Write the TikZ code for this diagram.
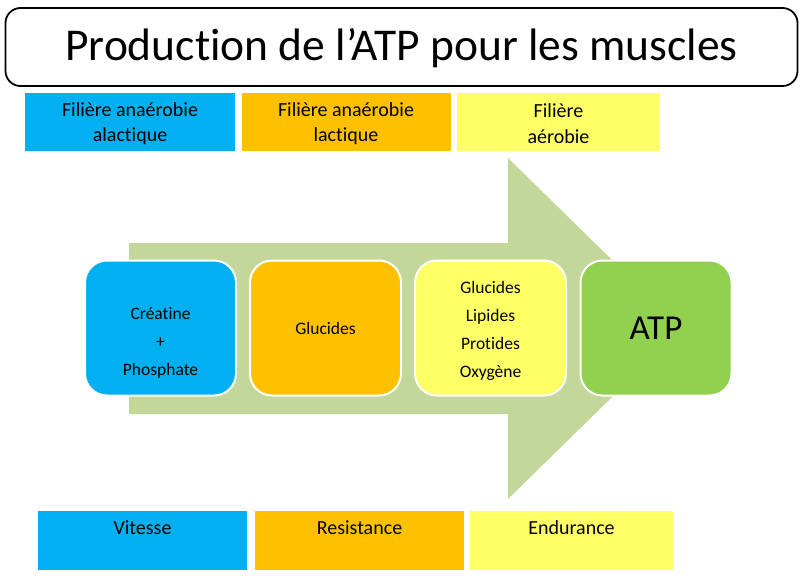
\documentclass[tikz,border=0pt]{standalone}
\usepackage{fontspec}
\setmainfont{Carlito}[Ligatures=NoCommon, RawFeature=-calt]
\definecolor{cblue}{HTML}{00B0F0}
\definecolor{corange}{HTML}{FFC000}
\definecolor{cyellow}{HTML}{FFFF66}
\definecolor{cgreen}{HTML}{92D050}
\definecolor{carrow}{HTML}{C4D79B}
\tikzset{
  titlebox/.style={draw=black, line width=1.8pt, rounded corners=15pt, fill=white,
    minimum width=792pt, minimum height=78pt, inner sep=0pt,
    font=\fontsize{45.5}{54}\selectfont},
  flatbox/.style={inner sep=0pt, align=center, minimum height=58pt,
    font=\fontsize{20}{25.5}\selectfont},
  stagebox/.style={draw=white, line width=2pt, rounded corners=22pt,
    minimum width=151pt, minimum height=135pt, inner sep=0pt, align=center,
    font=\fontsize{17.5}{28}\selectfont},
  bottomtext/.style={inner sep=0pt, font=\fontsize{20}{24}\selectfont},
}
\begin{document}
\begin{tikzpicture}[x=1pt,y=-1pt]
\useasboundingbox (0,0) rectangle (805,579);
% title
\node[titlebox] (title) at (401.5,47) {\rule{0pt}{34pt}Production de l’ATP pour les muscles};
% top boxes
\node[flatbox, fill=cblue, minimum width=210pt] (t1) at (130,122) {\rule{0pt}{17pt}Filière anaérobie\\alactique};
\node[flatbox, fill=corange, minimum width=209pt] (t2) at (346,122) {\rule{0pt}{17pt}Filière anaérobie\\lactique};
\node[flatbox, fill=cyellow, minimum width=203pt] (t3) at (558.5,122) {\rule{0pt}{17pt}Filière\\aérobie};
% big arrow
\fill[carrow] (129,243) -- (508,243) -- (508,158) -- (682,328.5) -- (508,499)
  -- (508,414) -- (129,414) -- cycle;
% stage boxes
\node[stagebox, fill=cblue] (s1) at (160.5,328) {\rule{0pt}{13.5pt}\\Créatine\\+\\Phosphate};
\node[stagebox, fill=corange] (s2) at (325.5,328) {Glucides};
\node[stagebox, fill=cyellow] (s3) at (490.5,328) {\rule{0pt}{17pt}Glucides\\Lipides\\Protides\\Oxygène};
\node[stagebox, fill=cgreen, font=\fontsize{35}{40}\selectfont] (s4) at (656,328) {ATP};
% bottom boxes
\node[flatbox, fill=cblue, minimum width=209pt, minimum height=59pt] (b1) at (142.5,540.5) {};
\node[flatbox, fill=corange, minimum width=209pt, minimum height=59pt] (b2) at (359.5,540.5) {};
\node[flatbox, fill=cyellow, minimum width=203pt, minimum height=59pt] (b3) at (571.5,540.5) {};
\node[bottomtext] (l1) at (b1.center |- 0,527.5) {Vitesse};
\node[bottomtext] (l2) at (b2.center |- 0,527.5) {Resistance};
\node[bottomtext] (l3) at (b3.center |- 0,527.5) {Endurance};
\end{tikzpicture}
\end{document}
